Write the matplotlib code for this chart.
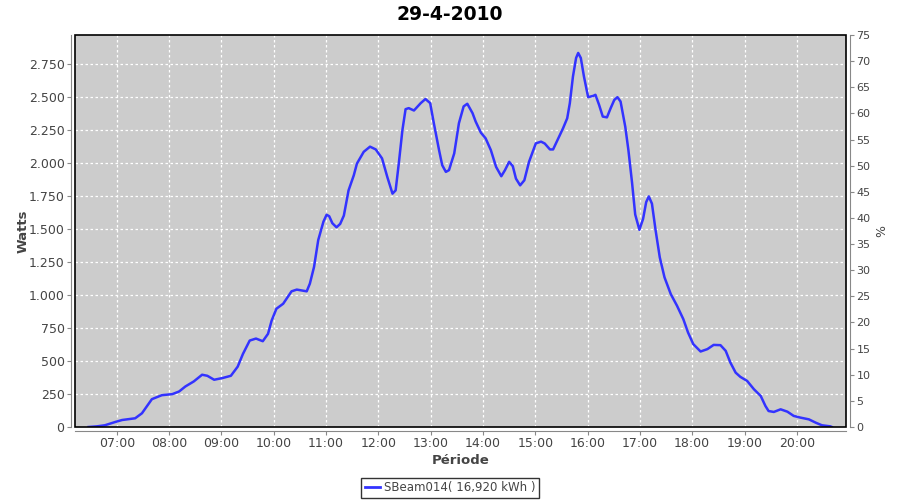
#!/usr/bin/env python3
"""
SBeam014 daily production — 29-4-2010
"""
import matplotlib
matplotlib.use('Agg')
import matplotlib.pyplot as plt
from matplotlib.ticker import FixedLocator, FuncFormatter
from matplotlib.patches import Rectangle
from matplotlib.lines import Line2D

# ── Data (time in decimal hours, power in W) ──
hours = [6.46, 6.62, 6.77, 6.97, 7.10, 7.35, 7.48, 7.67, 7.86, 8.06, 8.19, 8.31,
         8.47, 8.63, 8.73, 8.86, 9.02, 9.18, 9.31, 9.41, 9.54, 9.66, 9.79, 9.89,
         9.96, 10.05, 10.18, 10.34, 10.44, 10.63, 10.69, 10.77, 10.85, 10.95, 11.01, 11.06,
         11.12, 11.20, 11.27, 11.34, 11.43, 11.53, 11.59, 11.72, 11.84, 11.95, 12.07, 12.17,
         12.27, 12.33, 12.39, 12.46, 12.52, 12.58, 12.68, 12.81, 12.90, 12.99, 13.06, 13.16,
         13.22, 13.29, 13.35, 13.45, 13.54, 13.63, 13.70, 13.80, 13.86, 13.96, 14.05, 14.15,
         14.25, 14.35, 14.42, 14.50, 14.57, 14.63, 14.71, 14.79, 14.88, 15.01, 15.11, 15.18,
         15.28, 15.34, 15.44, 15.53, 15.61, 15.66, 15.72, 15.78, 15.82, 15.87, 15.93, 16.01,
         16.11, 16.15, 16.22, 16.29, 16.37, 16.44, 16.51, 16.57, 16.63, 16.72, 16.78, 16.85,
         16.91, 16.99, 17.06, 17.12, 17.17, 17.23, 17.30, 17.38, 17.47, 17.59, 17.71, 17.83,
         17.92, 18.02, 18.16, 18.29, 18.41, 18.54, 18.64, 18.73, 18.83, 18.92, 19.05, 19.18,
         19.31, 19.40, 19.46, 19.56, 19.69, 19.82, 19.94, 20.07, 20.23, 20.36, 20.48, 20.64,
         20.67]
watts = [0, 5, 13, 38, 53, 66, 104, 211, 241, 249, 269, 307,
         345, 396, 388, 358, 371, 388, 457, 553, 655, 670, 650, 706,
         807, 896, 934, 1028, 1041, 1028, 1086, 1213, 1416, 1556, 1608, 1597,
         1544, 1513, 1539, 1602, 1793, 1907, 1996, 2085, 2124, 2103, 2035, 1895,
         1768, 1793, 1996, 2251, 2408, 2416, 2398, 2454, 2485, 2454, 2302, 2098,
         1984, 1933, 1946, 2073, 2302, 2429, 2449, 2378, 2314, 2230, 2187, 2098,
         1971, 1900, 1946, 2009, 1976, 1882, 1831, 1869, 2009, 2149, 2162, 2148,
         2103, 2103, 2187, 2263, 2339, 2453, 2656, 2796, 2834, 2796, 2656, 2499,
         2509, 2517, 2440, 2352, 2346, 2415, 2478, 2499, 2466, 2275, 2098, 1850,
         1610, 1494, 1576, 1704, 1747, 1692, 1490, 1285, 1134, 1007, 918, 817,
         716, 628, 572, 590, 622, 620, 577, 488, 412, 380, 349, 286,
         235, 159, 121, 114, 134, 116, 84, 71, 58, 33, 13, 5,
         0]

title = '29-4-2010'
series_label = 'SBeam014( 16,920 kWh )'
hour_ticks = list(range(7, 21))
watt_ticks = list(range(0, 3000, 250))
pct_ticks = list(range(0, 80, 5))

W_MAX = 2970      # left axis top
PCT_MAX = 75      # right axis top (same height)

TXT = '#444444'
AXC = '#888888'

fig = plt.figure(figsize=(9, 5), dpi=100)
ax = fig.add_axes([75/900, 1 - 427/500, (846 - 75)/900, (427 - 35)/500])
ax.set_facecolor('#cccccc')

ax.plot(hours, watts, color='#3333ff', linewidth=1.8, zorder=3)

ax.set_xlim(6.2, 20.94)
ax.set_ylim(0, W_MAX)
ax.xaxis.set_major_locator(FixedLocator(hour_ticks))
ax.xaxis.set_major_formatter(FuncFormatter(lambda v, p: f'{int(round(v)):02d}:00'))
ax.yaxis.set_major_locator(FixedLocator(watt_ticks))
ax.yaxis.set_major_formatter(FuncFormatter(lambda v, p: f'{int(v):,}'.replace(',', '.')))
ax.grid(True, color='white', linestyle=(0, (2, 2)), linewidth=0.9)
ax.set_axisbelow(True)

for s in ['top', 'right']:
    ax.spines[s].set_visible(False)
ax.spines['left'].set_position(('outward', 3))
ax.spines['bottom'].set_position(('outward', 3))
ax.spines['left'].set_color(AXC)
ax.spines['bottom'].set_color(AXC)
ax.tick_params(axis='both', colors=AXC, labelcolor=TXT, labelsize=9, length=3, width=0.8, pad=1.5)

# plot area border
ax.add_patch(Rectangle((0, 0), 1, 1, transform=ax.transAxes, fill=False,
                       edgecolor='black', linewidth=1.2, zorder=5, clip_on=False))

ax.set_xlabel('Période', fontsize=9.5, fontweight='bold', color=TXT)
ax.set_ylabel('Watts', fontsize=9.5, fontweight='bold', color=TXT)
ax.xaxis.set_label_coords(0.5, -0.069)
ax.yaxis.set_label_coords(-0.0586, 0.5)

# right axis (%)
ax2 = ax.twinx()
ax2.set_ylim(0, PCT_MAX)
ax2.yaxis.set_major_locator(FixedLocator(pct_ticks))
for s in ['top', 'left', 'bottom']:
    ax2.spines[s].set_visible(False)
ax2.spines['right'].set_position(('outward', 3))
ax2.spines['right'].set_color(AXC)
ax2.tick_params(axis='y', colors=AXC, labelcolor=TXT, labelsize=8, length=3, width=0.8, pad=1.5)
ax2.set_ylabel('%', fontsize=9, color=TXT)
ax2.yaxis.set_label_coords(1.0375, 0.5)

fig.text(0.5, 1 - 15/500, title, ha='center', va='center', fontsize=13.5, fontweight='bold')

handle = Line2D([], [], color='#3333ff', linewidth=2)
leg = fig.legend([handle], [series_label], loc='center', bbox_to_anchor=(0.5, 1 - 488/500),
                 frameon=True, fancybox=False, fontsize=8.5, handlelength=1.3,
                 handletextpad=0.3, borderpad=0.3, borderaxespad=0)
leg.get_frame().set_edgecolor('black')
leg.get_frame().set_linewidth(1)
for t in leg.get_texts():
    t.set_color(TXT)

fig.savefig('out.png', dpi=100)
